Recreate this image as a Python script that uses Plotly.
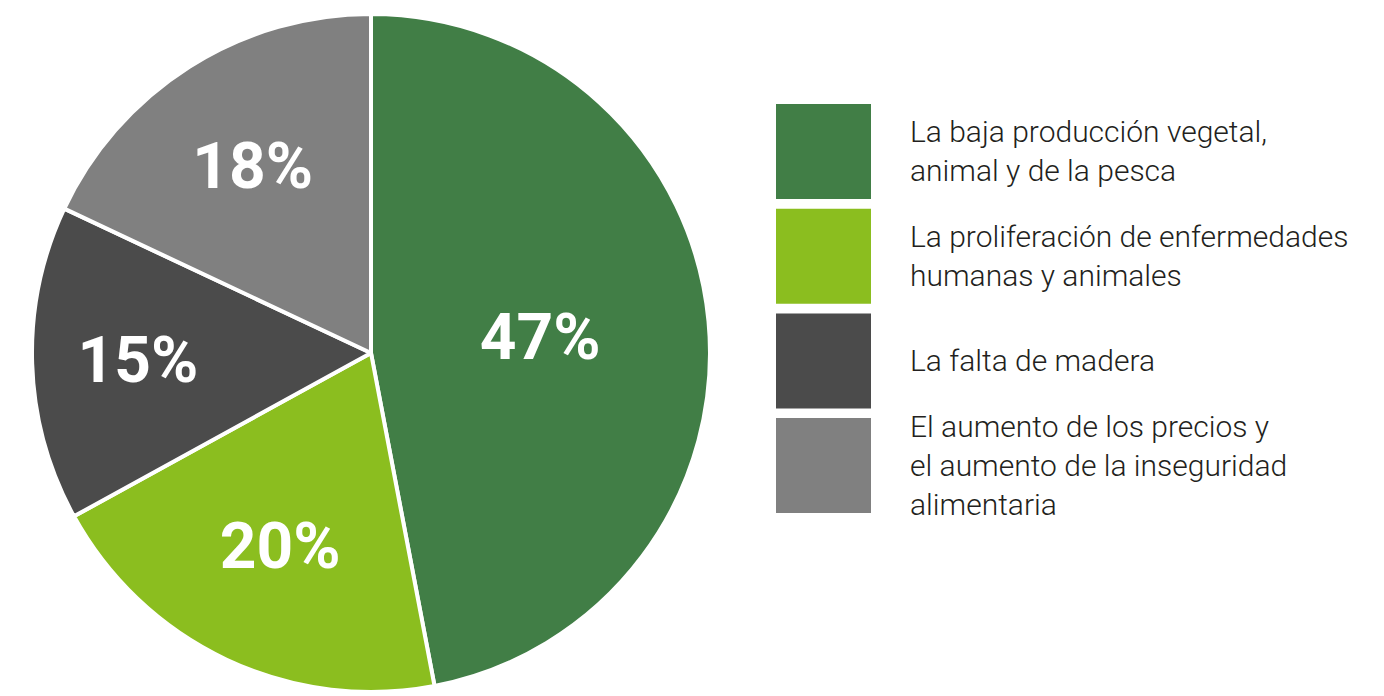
import plotly.graph_objects as go

categories = [
    "La baja producción vegetal,<br>animal y de la pesca",
    "La proliferación de enfermedades<br>humanas y animales",
    "La falta de madera",
    "El aumento de los precios y<br>el aumento de la inseguridad<br>alimentaria",
]
values = [47, 20, 15, 18]
colors = ["#417E46", "#8BBE1F", "#4B4B4B", "#808080"]

W, H = 1384, 696
cx, cy, r = 371, 353, 339

fig = go.Figure()
fig.add_trace(go.Pie(
    labels=[c.replace("<br>", " ") for c in categories],
    values=values,
    sort=False,
    direction="clockwise",
    rotation=0,
    marker=dict(colors=colors, line=dict(color="white", width=4)),
    texttemplate="%{value}%",
    textposition="inside",
    insidetextorientation="horizontal",
    insidetextfont=dict(family="Roboto", size=64, color="white", weight="bold"),
    domain=dict(x=[(cx - r) / W, (cx + r) / W], y=[(H - cy - r) / H, (H - cy + r) / H]),
    showlegend=False,
    hoverinfo="label+percent",
))

# Custom legend: large colour squares with text
box_x0, box_x1 = 776, 871
box_top, box_h, box_gap = 104, 95, 9.7
for i, (cat, col) in enumerate(zip(categories, colors)):
    y0 = box_top + i * (box_h + box_gap)
    y1 = y0 + box_h
    fig.add_shape(type="rect", xref="paper", yref="paper",
                  x0=box_x0 / W, x1=box_x1 / W,
                  y0=1 - y1 / H, y1=1 - y0 / H,
                  fillcolor=col, line=dict(width=0))
    fig.add_annotation(xref="paper", yref="paper",
                       x=908 / W, y=1 - (y0 + box_h / 2) / H,
                       xanchor="left", yanchor="middle", align="left",
                       text=cat, showarrow=False,
                       font=dict(family="Roboto", size=30, color="#231F20", weight=300))

fig.update_layout(
    width=W, height=H,
    margin=dict(l=0, r=0, t=0, b=0),
    paper_bgcolor="white",
    plot_bgcolor="white",
)

fig.write_html(
    "out.html",
    config={"displayModeBar": False},
    post_script="document.body.style.margin='0';document.body.style.overflow='hidden';",
)
